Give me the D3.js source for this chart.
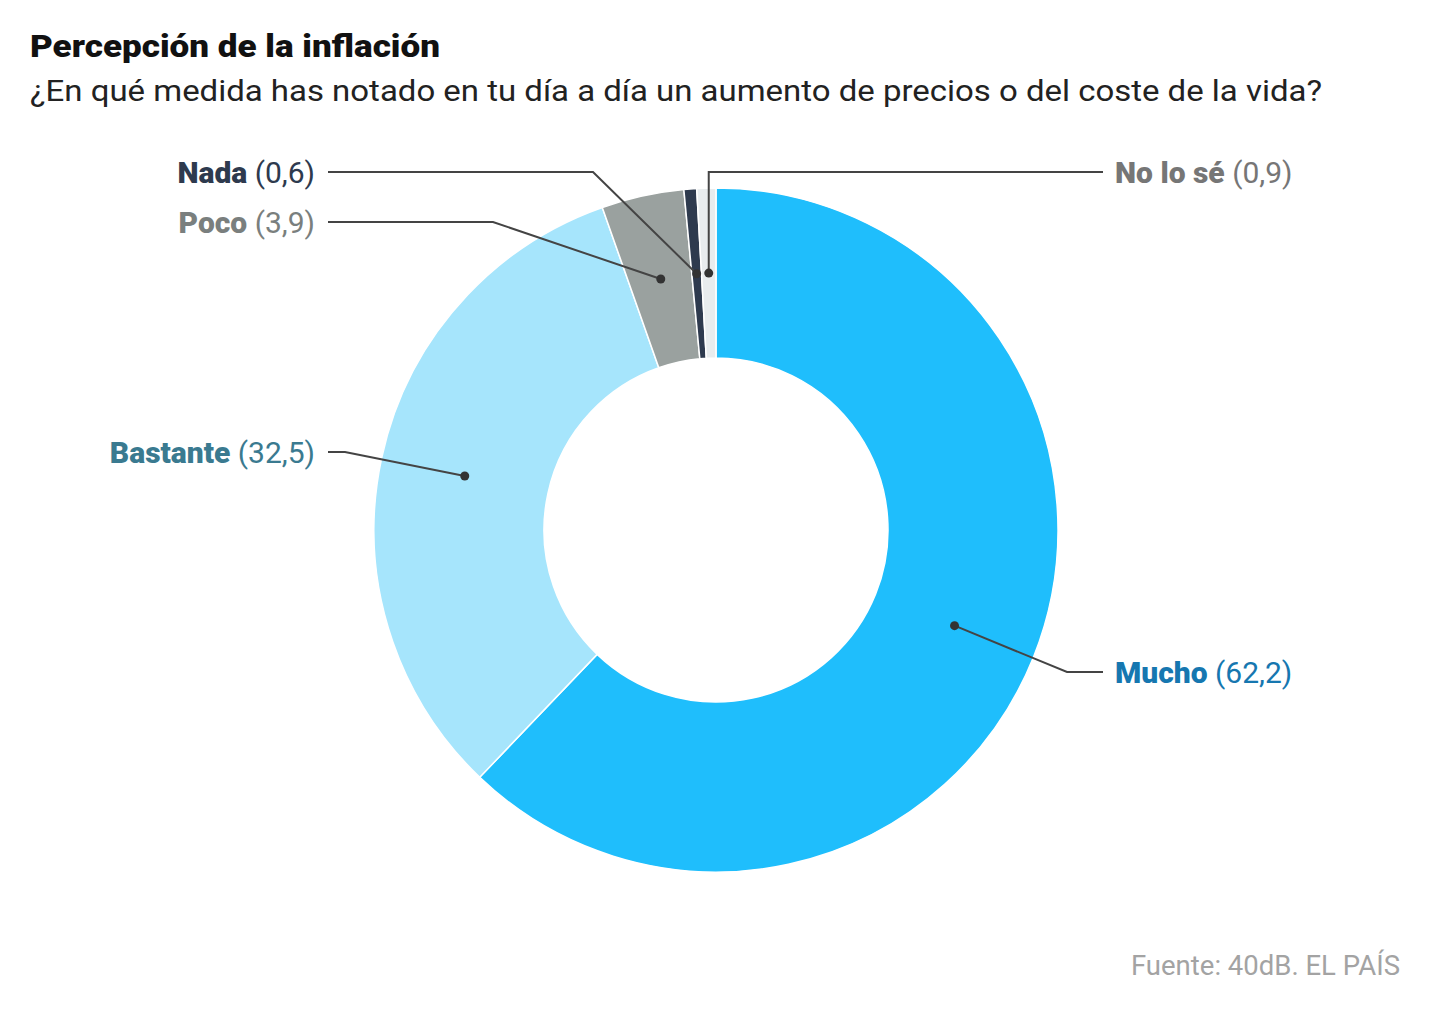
<!DOCTYPE html>
<html><head><meta charset="utf-8">
<script src="https://cdn.jsdelivr.net/npm/d3@7"></script>
<style>body{margin:0;background:#fff}svg{display:block}</style>
</head><body>
<svg id="c" width="1446" height="1022"></svg>
<script>
const categories = ["Mucho","Bastante","Poco","Nada","No lo sé"];
const values = [62.2, 32.5, 3.9, 0.6, 0.9];
const valueLabels = ["62,2","32,5","3,9","0,6","0,9"];
const colors = ["#1fbefc","#a6e5fc","#9aa19f","#2e3a4e","#e8ecee"];
const textColors = ["#1677b0","#3a7a90","#7a7f7e","#2e3a4e","#767676"];
// layout for labels: side, line y, elbow x
const labelLayout = [
  {side:"right", y:672, elbow:1067},
  {side:"left", y:452, elbow:345},
  {side:"left", y:222, elbow:493},
  {side:"left", y:172, elbow:593},
  {side:"right", y:172, elbow:null}
];

const svg = d3.select("#c");
const cx = 716, cy = 530, R = 342, r = 172;
const boldFont = "Roboto, 'Liberation Sans', sans-serif";
const regFont = "Roboto, 'Liberation Sans', sans-serif";

svg.append("text").attr("x",30).attr("y",57)
  .attr("font-family",boldFont).attr("font-weight",900).attr("font-size",31)
  .attr("fill","#111").attr("textLength",410).attr("lengthAdjust","spacingAndGlyphs")
  .text("Percepción de la inflación");
svg.append("text").attr("x",30).attr("y",101)
  .attr("font-family",regFont).attr("font-size",30)
  .attr("fill","#222").attr("textLength",1292).attr("lengthAdjust","spacingAndGlyphs")
  .text("¿En qué medida has notado en tu día a día un aumento de precios o del coste de la vida?");

const pie = d3.pie().sort(null).value(d=>d)(values);
const arc = d3.arc().innerRadius(r).outerRadius(R);
const mid = d3.arc().innerRadius((r+R)/2).outerRadius((r+R)/2);
const g = svg.append("g").attr("transform",`translate(${cx},${cy})`);
g.selectAll("path").data(pie).join("path")
  .attr("d",arc).attr("fill",(d,i)=>colors[i])
  .attr("stroke","#fff").attr("stroke-width",1.5);

const lg = svg.append("g");
pie.forEach((d,i)=>{
  const [mx,my] = mid.centroid(d);
  const px = cx+mx, py = cy+my;
  const L = labelLayout[i];
  let pts;
  if (L.side==="left") {
    pts = [[328,L.y],[L.elbow,L.y],[px,py]];
  } else if (L.elbow===null) {
    pts = [[1103,L.y],[px,L.y],[px,py]];
  } else {
    pts = [[1103,L.y],[L.elbow,L.y],[px,py]];
  }
  lg.append("path").attr("d",d3.line()(pts)).attr("fill","none")
    .attr("stroke","#444").attr("stroke-width",2);
  lg.append("circle").attr("cx",px).attr("cy",py).attr("r",4.5).attr("fill","#333");
  const t = lg.append("text").attr("y",L.y+11).attr("font-size",30)
    .attr("fill",textColors[i])
    .attr("x", L.side==="left"?315:1115)
    .attr("text-anchor", L.side==="left"?"end":"start");
  t.append("tspan").attr("font-family",boldFont).attr("font-weight",900).text(categories[i]);
  t.append("tspan").attr("font-family",regFont).attr("font-weight",400).text(" ("+valueLabels[i]+")");
});

svg.append("text").attr("x",1400).attr("y",975).attr("text-anchor","end")
  .attr("font-family",regFont).attr("font-size",27.5).attr("fill","#a3a3a3")
  .text("Fuente: 40dB. EL PAÍS");
</script>
</body></html>
